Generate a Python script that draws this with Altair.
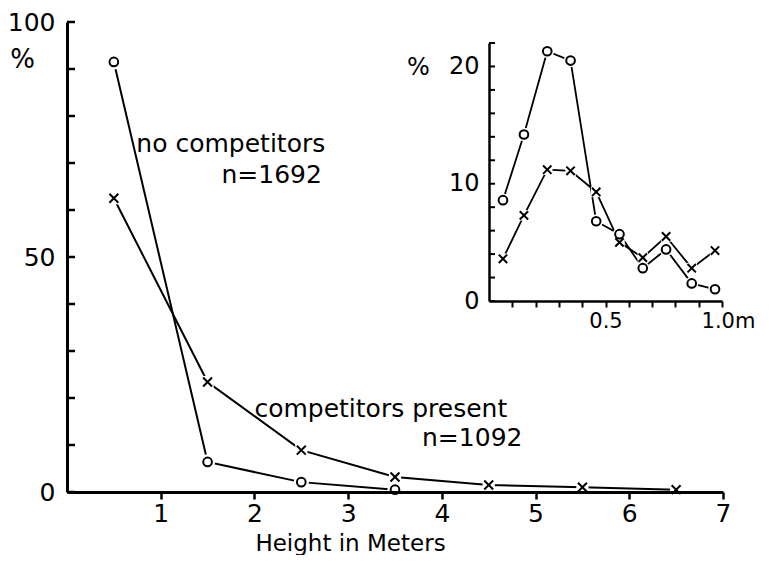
import altair as alt
import pandas as pd

# ---------------- data ----------------
main_height_m = [0.5, 1.5, 2.5, 3.5, 4.5, 5.5, 6.5]
main_no_comp = [91.5, 6.4, 2.1, 0.5]          # circles, first four classes
main_comp = [62.5, 23.4, 8.9, 3.2, 1.5, 1.0, 0.5]  # crosses

inset_height_m = [0.06, 0.15, 0.25, 0.35, 0.46, 0.56, 0.66, 0.76, 0.87, 0.97]
inset_no_comp = [8.6, 14.2, 21.3, 20.5, 6.8, 5.7, 2.8, 4.4, 1.5, 1.0]
inset_comp = [3.6, 7.3, 11.2, 11.1, 9.3, 5.0, 3.7, 5.5, 2.8, 4.3]

main_x_ticks = [1, 2, 3, 4, 5, 6, 7]
main_y_ticks = [0, 10, 20, 30, 40, 50, 60, 70, 80, 90, 100]
inset_x_ticks = [0.1, 0.2, 0.3, 0.4, 0.5, 0.6, 0.7, 0.8, 0.9, 1.0]
inset_y_ticks = [0, 2, 4, 6, 8, 10, 12, 14, 16, 18, 20, 22]

ann_left_text = ["no competitors", "competitors present"]
ann_left_x = [0.74, 2.0]
ann_left_y = [72.3, 16.0]
ann_right_text = ["n=1692", "n=1092"]
ann_right_x = [2.72, 4.86]
ann_right_y = [65.8, 9.8]

# ---------------- tables ----------------
df_main_no = pd.DataFrame({"h": main_height_m[:len(main_no_comp)], "pct": main_no_comp})
df_main_c = pd.DataFrame({"h": main_height_m, "pct": main_comp})
df_in_no = pd.DataFrame({"hi": inset_height_m, "pi": inset_no_comp})
df_in_c = pd.DataFrame({"hi": inset_height_m, "pi": inset_comp})
df_ann_l = pd.DataFrame({"h": ann_left_x, "pct": ann_left_y, "t": ann_left_text})
df_ann_r = pd.DataFrame({"h": ann_right_x, "pct": ann_right_y, "t": ann_right_text})
df_main_yt = pd.DataFrame({"h": [0] * len(main_y_ticks), "pct": main_y_ticks})
df_in_yt = pd.DataFrame({"hi": [0] * len(inset_y_ticks), "pi": inset_y_ticks})

FONT = "DejaVu Sans"
CROSS = "M-1,-1L1,1M-1,1L1,-1"
INWARD_TICK = "M0,0L1,0"

W, H = 656, 470
IN_X0, IN_X1 = 422, 655
IN_Y0, IN_Y1 = 279, 21

# ---------------- main encodings ----------------
x_main = alt.X(
    "h:Q",
    scale=alt.Scale(domain=[0, 7], nice=False, zero=False),
    axis=alt.Axis(
        values=main_x_ticks, format="d", title="Height in Meters",
        titleX=283, titleY=51, titleAlign="center", titleBaseline="middle",
        titleFontSize=23, titleFontWeight="normal", titleFont=FONT,
        labelFontSize=25, labelFont=FONT, labelPadding=2, labelFlush=False,
        labelOverlap=False, tickSize=7, tickWidth=2.5, domainWidth=3,
        domainColor="black", tickColor="black", labelColor="black", titleColor="black",
        grid=False, zindex=1,
    ),
)
y_main = alt.Y(
    "pct:Q",
    scale=alt.Scale(domain=[0, 100], nice=False),
    axis=alt.Axis(
        values=main_y_ticks,
        labelExpr="datum.value % 50 == 0 ? datum.label : ''",
        title="%", titleAngle=0, titleX=-45, titleY=37,
        titleAlign="center", titleBaseline="middle",
        titleFontSize=26, titleFontWeight="normal", titleFont=FONT,
        labelFontSize=25, labelFont=FONT, labelPadding=12, labelOverlap=False,
        ticks=False, domainWidth=3,
        domainColor="black", labelColor="black", titleColor="black",
        grid=False, zindex=1,
    ),
)

line_main_no = alt.Chart(df_main_no).mark_line(color="black", strokeWidth=2).encode(x=x_main, y=y_main)
line_main_c = alt.Chart(df_main_c).mark_line(color="black", strokeWidth=2).encode(x=x_main, y=y_main)
halo_main_no = alt.Chart(df_main_no).mark_point(shape="circle", filled=True, fill="white", strokeWidth=0, size=230, opacity=1).encode(x=x_main, y=y_main)
halo_main_c = alt.Chart(df_main_c).mark_point(shape="square", filled=True, fill="white", strokeWidth=0, size=150, opacity=1).encode(x=x_main, y=y_main)
pts_main_no = alt.Chart(df_main_no).mark_point(shape="circle", filled=True, fill="white", stroke="black", strokeWidth=2, size=75, opacity=1).encode(x=x_main, y=y_main)
pts_main_c = alt.Chart(df_main_c).mark_point(shape=CROSS, filled=False, stroke="black", strokeWidth=2, size=80, opacity=1).encode(x=x_main, y=y_main)
ticks_main_y = alt.Chart(df_main_yt).mark_point(shape=INWARD_TICK, filled=False, stroke="black", strokeWidth=2.5, size=256, opacity=1, strokeCap="butt").encode(x=x_main, y=y_main)
txt_l = alt.Chart(df_ann_l).mark_text(align="left", baseline="alphabetic", font=FONT, fontSize=25, color="black").encode(x=x_main, y=y_main, text="t:N")
txt_r = alt.Chart(df_ann_r).mark_text(align="right", baseline="alphabetic", font=FONT, fontSize=25, color="black").encode(x=x_main, y=y_main, text="t:N")

main = alt.layer(line_main_no, line_main_c, halo_main_no, halo_main_c,
                 pts_main_no, pts_main_c, ticks_main_y, txt_l, txt_r)

# ---------------- inset encodings ----------------
x_in = alt.X(
    "hi:Q",
    scale=alt.Scale(domain=[0, 1], range=[IN_X0, IN_X1], nice=False, zero=False),
    axis=alt.Axis(
        orient="bottom", offset=-(H - IN_Y0), values=inset_x_ticks,
        labelExpr="abs(datum.value - 0.5) < 0.001 ? '0.5' : (abs(datum.value - 1) < 0.001 ? '1.0m' : '')",
        labelOffset={"condition": {"test": "abs(datum.value - 1) < 0.001", "value": 6}, "value": 0},
        title=None, labelFontSize=21, labelFont=FONT, labelPadding=3,
        labelFlush=False, labelOverlap=False, tickSize=6, tickWidth=2,
        domainWidth=2.5, domainColor="black", tickColor="black", labelColor="black",
        grid=False, zindex=1,
    ),
)
y_in = alt.Y(
    "pi:Q",
    scale=alt.Scale(domain=[0, 22], range=[IN_Y0, IN_Y1], nice=False),
    axis=alt.Axis(
        orient="left", offset=-IN_X0, values=inset_y_ticks,
        labelExpr="datum.value % 10 == 0 ? datum.label : ''",
        title="%", titleAngle=0, titleX=-71, titleY=45,
        titleAlign="center", titleBaseline="middle",
        titleFontSize=24, titleFontWeight="normal", titleFont=FONT,
        labelFontSize=24, labelFont=FONT, labelPadding=10, labelOverlap=False,
        ticks=False, domainWidth=2.5,
        domainColor="black", labelColor="black", titleColor="black",
        grid=False, zindex=1,
    ),
)

line_in_no = alt.Chart(df_in_no).mark_line(color="black", strokeWidth=1.8).encode(x=x_in, y=y_in)
line_in_c = alt.Chart(df_in_c).mark_line(color="black", strokeWidth=1.8).encode(x=x_in, y=y_in)
halo_in_no = alt.Chart(df_in_no).mark_point(shape="circle", filled=True, fill="white", strokeWidth=0, size=180, opacity=1).encode(x=x_in, y=y_in)
halo_in_c = alt.Chart(df_in_c).mark_point(shape="square", filled=True, fill="white", strokeWidth=0, size=110, opacity=1).encode(x=x_in, y=y_in)
pts_in_no = alt.Chart(df_in_no).mark_point(shape="circle", filled=True, fill="white", stroke="black", strokeWidth=2, size=75, opacity=1).encode(x=x_in, y=y_in)
pts_in_c = alt.Chart(df_in_c).mark_point(shape=CROSS, filled=False, stroke="black", strokeWidth=2, size=70, opacity=1).encode(x=x_in, y=y_in)
ticks_in_y = alt.Chart(df_in_yt).mark_point(shape=INWARD_TICK, filled=False, stroke="black", strokeWidth=2, size=144, opacity=1, strokeCap="butt").encode(x=x_in, y=y_in)

inset = alt.layer(line_in_no, line_in_c, halo_in_no, halo_in_c, pts_in_no, pts_in_c, ticks_in_y)

chart = (
    alt.layer(main, inset)
    .resolve_scale(x="independent", y="independent")
    .properties(
        width=W, height=H,
        autosize=alt.AutoSizeParams(type="none"),
        padding={"left": 59, "top": 14, "right": 36, "bottom": 63},
        background="white",
    )
    .configure(font=FONT)
    .configure_view(stroke=None)
    .configure_axis(domainColor="black", tickColor="black", labelColor="black",
                    titleColor="black", domainWidth=3)
)

chart.save("out.html", embed_options={"renderer": "svg", "actions": False})
